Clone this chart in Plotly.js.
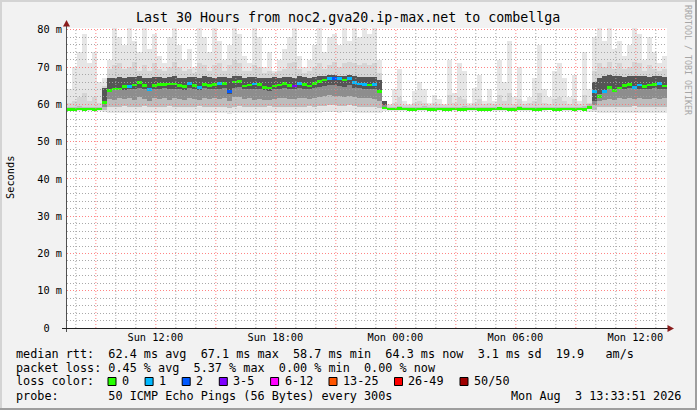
<!DOCTYPE html>
<html><head><meta charset="utf-8">
<script src="https://cdn.plot.ly/plotly-3.0.1.min.js"></script>
<style>
html,body{margin:0;padding:0;background:#f2f2f2;}
#chart{width:697px;height:410px;}
</style>
</head><body><div id="chart"></div>
<script>
// ---------- chart text ----------
const titleText = 'Last 30 Hours from noc2.gva20.ip-max.net to combellga';
const yAxisTitle = 'Seconds';
const creditText = 'RRDTOOL / TOBI OETIKER';
const statsMedian = 'median rtt:  62.4 ms avg  67.1 ms max  58.7 ms min  64.3 ms now  3.1 ms sd  19.9   am/s';
const statsLoss = 'packet loss: 0.45 % avg  5.37 % max  0.00 % min  0.00 % now';
const lossTitle = 'loss color:';
const probeText = 'probe:       50 ICMP Echo Pings (56 Bytes) every 300s';
const stampText = 'Mon Aug  3 13:33:51 2026';

// ---------- axes ----------
const rangeStart = '2026-08-02 07:35:00';
const rangeEnd = '2026-08-03 13:35:00';
const binStartUTC = Date.UTC(2026, 7, 2, 7, 35, 0);
const binMinutes = 15;
const yMax = 80.5;
const xTickVals = ['2026-08-02 12:00', '2026-08-02 18:00', '2026-08-03 00:00', '2026-08-03 06:00', '2026-08-03 12:00'];
const xTickText = ['Sun 12:00', 'Sun 18:00', 'Mon 00:00', 'Mon 06:00', 'Mon 12:00'];
const yTickVals = [0, 10, 20, 30, 40, 50, 60, 70, 80];
const yTickText = ['0\u00a0\u00a0', '10 m', '20 m', '30 m', '40 m', '50 m', '60 m', '70 m', '80 m'];

// ---------- loss legend ----------
const lossLabels = ['0', '1', '2', '3-5', '6-12', '13-25', '26-49', '50/50'];
const lossColors = ['#26ff00', '#00b8ff', '#0059ff', '#7e00ff', '#ff00ff', '#ff5500', '#ff0000', '#a00000'];

// ---------- data (15-minute bins, values in ms) ----------
const median = [
58.7,58.7,58.8,58.7,58.8,58.7,58.8,60.5,63.8,64.1,
64.1,64.8,64.8,65.2,65.9,65.0,64.0,65.0,65.4,65.4,
65.5,65.5,65.0,64.8,65.6,65.0,64.6,65.4,65.0,65.3,
65.6,65.6,63.4,66.0,66.2,64.9,65.2,65.5,65.4,64.5,
64.4,64.9,65.2,65.6,65.0,64.9,65.6,65.3,64.9,65.6,
66.2,66.5,67.0,67.0,67.0,66.5,67.0,65.8,65.5,65.4,
65.2,65.3,63.5,59.0,58.8,58.8,58.9,58.8,58.7,58.7,
58.8,58.8,58.7,58.7,58.8,58.7,58.7,58.8,58.7,58.7,
58.8,58.8,58.7,58.7,58.7,58.8,58.9,58.8,58.7,58.7,
58.9,58.8,58.8,58.7,58.7,58.8,58.8,58.7,58.7,58.8,
58.8,58.7,58.8,58.7,59.2,63.5,62.2,63.4,64.5,63.8,
64.4,65.0,65.4,64.6,65.2,64.8,65.2,65.3,65.6,64.9];

const lossIdx = [
0,0,0,0,0,0,0,0,0,0,
0,0,1,0,0,0,1,0,0,0,
0,0,0,0,1,0,1,0,0,0,
1,0,2,0,0,0,0,1,0,0,
0,0,0,0,0,3,1,0,0,0,
0,0,1,2,1,0,1,1,1,1,
0,1,0,0,0,0,0,0,0,0,
0,0,0,0,0,0,0,0,0,0,
0,0,0,0,0,0,0,0,0,0,
0,0,0,0,0,0,0,0,0,0,
0,0,0,0,0,1,0,1,0,0,
0,0,0,1,1,0,0,0,1,0];

const smokeMax = [
64,70,74,79,71,74,66,67,72,80.5,
78,76,80.5,77,74,80.5,75,79,73,71,
78,80.5,76,72,75,70,80.5,78,74,80.5,
77,72,76,80.5,79,73,71,80.5,78,70,
74,69,72,75,78,80.5,73,70,72,76,
80.5,74,78,79,76,80.5,77,80.5,78,80.5,
79,80.5,72,60.5,60,64,69.5,61,60,63.5,
66,64,60.5,62.5,61.5,60,72,63,71,69,
60.5,64.5,68,61,64,61,72,66,77,62,
70,61,62,67,76,64,62,69,71,67,
62,68,61,74,64,78,80.5,77,80.5,75,
77,73,76,80.5,79,72,78,74,71,73];

const hazeTop = [
60.5,61,62,63,61,62,60.5,65,69.5,70.5,
71,69.5,70,71.5,69,70.5,69,71,69.5,69,
70,71.5,70,69,69.5,68.5,71,70.5,69,70.5,
71,69,70.5,72,71,69,69,70.5,70,68.5,
69,68.5,69,69.5,71,71.5,69.5,68.5,69,70,
71,69.5,70.5,71.5,70,71,71.5,71,70.5,71,
70.5,71,68.5,60,59.8,60.5,62,59.8,59.8,60.5,
61,60.5,59.8,60.5,60,59.8,62.5,60.5,62,61.5,
59.8,60.5,61.5,60,60.5,60,62.5,61,63,60,
61.5,60,60.5,61,63,60.5,60,61.5,62,61,
60,61.5,60,62.5,60.5,69,71,70,71.5,69.5,
71,69.5,70,71.5,71,69,70.5,69.5,69,69.5];

const smokeMin = [
58.3,58.2,58.3,58.2,58.3,58.3,58.2,58.0,57.8,57.7,
57.6,57.8,57.7,57.7,57.6,57.8,57.7,57.6,57.7,57.8,
57.7,57.6,57.7,57.8,57.7,57.7,57.6,57.8,57.7,57.6,
57.7,57.8,57.5,57.7,57.8,57.7,57.6,57.7,57.8,57.7,
57.7,57.6,57.8,57.7,57.7,57.6,57.8,57.7,57.7,57.8,
57.7,57.9,58.0,57.9,57.8,57.9,58.0,57.8,57.7,57.8,
57.7,57.6,57.8,58.2,58.3,58.3,58.2,58.3,58.3,58.4,
58.3,58.2,58.3,58.3,58.3,58.2,58.3,58.3,58.4,58.3,
58.3,58.2,58.3,58.3,58.3,58.3,58.2,58.3,58.3,58.4,
58.3,58.3,58.2,58.3,58.3,58.3,58.4,58.3,58.3,58.2,
58.3,58.3,58.3,58.2,58.0,57.9,57.8,57.7,57.8,57.7,
57.6,57.8,57.7,57.8,57.7,57.6,57.8,57.7,57.8,57.7];

const bodyHi = [
59.4,59.3,59.5,59.3,59.4,59.3,59.4,64.5,67.0,67.2,
67.3,67.2,67.4,67.3,67.5,67.2,67.0,67.3,67.4,67.2,
67.3,67.5,67.2,67.1,67.4,67.3,67.2,67.5,67.3,67.2,
67.4,67.3,67.0,67.6,67.5,67.2,67.3,67.4,67.2,67.1,
67.0,67.3,67.2,67.4,67.3,67.2,67.5,67.3,67.2,67.4,
67.6,67.7,67.8,67.8,67.7,67.6,67.8,67.5,67.4,67.3,
67.3,67.4,66.5,61.0,59.4,59.3,59.5,59.3,59.3,59.4,
59.3,59.5,59.3,59.3,59.3,59.3,59.4,59.3,59.3,59.5,
59.3,59.3,59.4,59.3,59.3,59.3,59.4,59.3,59.3,59.3,
59.5,59.3,59.3,59.4,59.3,59.3,59.3,59.4,59.3,59.3,
59.3,59.4,59.3,59.5,60.0,66.0,67.0,67.6,67.8,67.5,
67.6,67.4,67.5,67.6,67.7,67.5,67.4,67.6,67.5,67.4];

const bodyLo = [
58.8,58.8,58.9,58.8,58.8,58.9,58.8,58.6,59.4,59.2,
59.3,59.5,59.2,59.4,59.3,59.6,59.2,59.3,59.4,59.2,
59.5,59.3,59.2,59.4,59.3,59.2,59.5,59.3,59.4,59.2,
59.3,59.3,59.0,59.4,59.5,59.2,59.3,59.4,59.2,59.3,
59.5,59.3,59.2,59.4,59.3,59.2,59.4,59.3,59.5,59.4,
59.6,59.7,59.8,59.8,59.7,59.6,59.8,59.5,59.4,59.3,
59.4,59.3,59.0,58.8,58.9,58.9,59.0,58.9,58.9,58.9,
59.0,58.9,58.9,58.9,58.9,59.0,58.9,58.9,58.9,58.9,
59.0,58.9,58.9,58.9,58.9,58.9,58.9,59.0,58.9,58.9,
58.9,58.9,58.9,59.0,58.9,58.9,58.9,58.9,59.0,58.9,
58.9,58.9,58.9,58.9,58.8,58.6,59.3,59.2,59.4,59.3,
59.2,59.4,59.3,59.5,59.4,59.3,59.2,59.4,59.3,59.4];

const coreLo = [
null,null,null,null,null,null,null,59.2,61.5,61.2,
61.8,61.4,61.6,61.3,62.0,61.5,61.0,61.7,61.4,61.8,
61.3,61.6,61.5,61.2,61.7,61.4,61.3,61.8,61.5,61.6,
61.4,61.7,60.8,61.9,62.0,61.5,61.6,61.3,61.4,61.2,
61.1,61.5,61.6,61.8,61.4,61.5,61.7,61.6,61.5,61.7,
62.0,62.2,62.4,62.3,62.2,62.0,62.3,61.9,61.8,61.7,
61.6,61.5,61.0,59.4,null,null,null,null,null,null,
null,null,null,null,null,null,null,null,null,null,
null,null,null,null,null,null,null,null,null,null,
null,null,null,null,null,null,null,null,null,null,
null,null,null,null,null,59.8,60.8,61.2,61.5,61.3,
61.6,61.4,61.7,61.5,61.6,61.4,61.5,61.7,61.5,61.6];

const darkLo = [
null,null,null,null,null,null,null,60.0,64.0,63.8,
64.2,63.9,64.1,64.0,64.4,64.0,63.5,64.2,64.1,64.3,
64.0,64.2,64.1,63.8,64.3,64.0,63.9,64.3,64.0,64.2,
64.1,64.3,62.8,64.5,64.6,64.0,64.2,64.1,64.0,63.8,
63.7,64.1,64.2,64.4,64.0,64.1,64.3,64.2,64.1,64.3,
64.8,65.0,65.2,65.1,65.0,64.8,65.1,64.5,64.3,64.2,
64.1,64.0,63.0,59.8,null,null,null,null,null,null,
null,null,null,null,null,null,null,null,null,null,
null,null,null,null,null,null,null,null,null,null,
null,null,null,null,null,null,null,null,null,null,
null,null,null,null,null,60.8,62.8,63.4,64.0,63.8,
64.1,64.0,64.3,64.1,64.2,64.0,64.1,64.3,64.2,64.1];

// ---------- helpers ----------
const W = 697, H = 410, ML = 67, MR = 30, MT = 28, MB = 82;
const PW = W - ML - MR, PH = H - MT - MB;
const X = px => (px - ML) / PW;
const Y = py => (MT + PH - py) / PH;
const binMs = binMinutes * 60000;
const fmt = ms => new Date(ms).toISOString().slice(0, 19).replace('T', ' ');
const binX = median.map((_, i) => fmt(binStartUTC + (i + 0.5) * binMs));
const nb = s => s.replace(/ /g, '\u00a0');
const MONO = 'DejaVu Sans Mono';

function layer(lo, hi, color) {
  const xs = [], base = [], h = [];
  for (let i = 0; i < binX.length; i++) {
    if (lo[i] == null || hi[i] == null) continue;
    const d = hi[i] - lo[i];
    if (d <= 0) continue;
    xs.push(binX[i]); base.push(lo[i]); h.push(d);
  }
  return {type: 'bar', x: xs, y: h, base: base, width: binMs,
          marker: {color: color, line: {width: 0}}, hoverinfo: 'skip', showlegend: false};
}

const traces = [
  layer(smokeMin, smokeMax, '#e6e6e6'),
  layer(bodyHi, hazeTop, '#d5d5d5'),
  layer(bodyLo, bodyHi, '#bdbdbd'),
  layer(coreLo, bodyHi, '#8d8d8d'),
  layer(darkLo, bodyHi, '#555555'),
  {type: 'bar', x: binX, y: median.map(() => 0.7), base: median.map(v => v - 0.35), width: binMs,
   marker: {color: lossIdx.map(k => lossColors[k]), line: {width: 0}}, hoverinfo: 'skip', showlegend: false}
];

// ---------- grid, axes, frame ----------
const shapes = [];
const gridMinor = 'rgba(160,160,160,0.9)', gridMajor = 'rgba(255,110,110,0.85)';
const halfPxMs = 0.5 * (30 * 3600000) / PW;
for (let t = Date.UTC(2026, 7, 2, 8, 0, 0); t <= Date.UTC(2026, 7, 3, 13, 0, 0); t += 3600000) {
  const hr = new Date(t).getUTCHours();
  shapes.push({type: 'line', xref: 'x', yref: 'paper', x0: fmt(t + halfPxMs), x1: fmt(t + halfPxMs), y0: 0, y1: 1, layer: 'above',
               line: {color: hr % 3 === 0 ? gridMajor : gridMinor, width: 1, dash: '1px,2px'}});
}
// horizontal grid, every 2 ms; each drawn as a row of dots (path segments)
for (let v = 2; v <= 80; v += 2) {
  const py = Math.floor(MT + PH - v * PH / yMax);
  let d = '';
  for (let px = ML; px < ML + PW; px += 3) d += `M${X(px)},${Y(py)} L${X(px + 1)},${Y(py)} L${X(px + 1)},${Y(py + 1)} L${X(px)},${Y(py + 1)} Z `;
  shapes.push({type: 'path', xref: 'paper', yref: 'paper', path: d, layer: 'above',
               fillcolor: v % 10 === 0 ? gridMajor : gridMinor, line: {width: 0}});
}
// axis lines
shapes.push({type: 'line', xref: 'paper', yref: 'paper', x0: X(66.5), x1: X(66.5), y0: Y(332), y1: Y(25), layer: 'above', line: {color: '#505050', width: 1}});
shapes.push({type: 'line', xref: 'paper', yref: 'paper', x0: X(62), x1: X(668), y0: Y(328.5), y1: Y(328.5), layer: 'above', line: {color: '#202020', width: 1}});
// arrows
const tri = (a, b, c) => `M${X(a[0])},${Y(a[1])} L${X(b[0])},${Y(b[1])} L${X(c[0])},${Y(c[1])} Z`;
shapes.push({type: 'path', xref: 'paper', yref: 'paper', path: tri([66.5, 20], [63, 26.5], [70, 26.5]), fillcolor: '#8a1c1c', line: {width: 0}, layer: 'above'});
shapes.push({type: 'path', xref: 'paper', yref: 'paper', path: tri([674, 328.5], [667.5, 325], [667.5, 332]), fillcolor: '#8a1c1c', line: {width: 0}, layer: 'above'});
// frame
shapes.push({type: 'line', xref: 'paper', yref: 'paper', x0: X(0), x1: X(697), y0: Y(1), y1: Y(1), line: {color: '#d4d4d4', width: 2}});
shapes.push({type: 'line', xref: 'paper', yref: 'paper', x0: X(1), x1: X(1), y0: Y(0), y1: Y(410), line: {color: '#d4d4d4', width: 2}});
shapes.push({type: 'line', xref: 'paper', yref: 'paper', x0: X(0), x1: X(697), y0: Y(409), y1: Y(409), line: {color: '#9e9e9e', width: 2}});
shapes.push({type: 'line', xref: 'paper', yref: 'paper', x0: X(696), x1: X(696), y0: Y(0), y1: Y(410), line: {color: '#9e9e9e', width: 2}});

// ---------- annotations ----------
const ann = [];
const txt = (text, px, py, size, opts) => Object.assign({
  text: nb(text), xref: 'paper', yref: 'paper', x: X(px), y: Y(py), xanchor: 'left', yanchor: 'middle',
  showarrow: false, borderpad: 0, font: {family: MONO, size: size, color: '#000'}}, opts || {});
ann.push(txt(titleText, 348, 18, 13.3, {xanchor: 'center'}));
ann.push(txt(yAxisTitle, 10, 178, 10.3, {xanchor: 'center', textangle: -90}));
ann.push(txt(creditText, 688, 60, 8.3, {xanchor: 'center', textangle: 90, font: {family: MONO, size: 8.3, color: '#a6a6a6'}}));
ann.push(txt(statsMedian, 15, 353.5, 11.8));
ann.push(txt(statsLoss, 15, 367.5, 11.8));
ann.push(txt(lossTitle, 15, 381.5, 11.8));
ann.push(txt(probeText, 15, 396, 11.8));
ann.push(txt(stampText, 682, 396, 11.8, {xanchor: 'right'}));
let sx = 108;
lossLabels.forEach((lab, k) => {
  shapes.push({type: 'rect', xref: 'paper', yref: 'paper', x0: X(sx), x1: X(sx + 8), y0: Y(385.5), y1: Y(377.5),
               fillcolor: lossColors[k], line: {color: '#000', width: 1}});
  ann.push(txt(lab, sx + 13, 381.5, 11.8));
  sx += 13 + 7.1 * lab.length + 17;
});

const layout = {
  width: W, height: H, margin: {l: ML, r: MR, t: MT, b: MB, pad: 0},
  paper_bgcolor: '#f2f2f2', plot_bgcolor: '#ffffff',
  barmode: 'overlay', bargap: 0, showlegend: false,
  xaxis: {type: 'date', range: [rangeStart, rangeEnd], tickmode: 'array', tickvals: xTickVals, ticktext: xTickText,
          showgrid: false, zeroline: false, showline: false, ticks: '', ticklabelstandoff: 2,
          tickfont: {family: MONO, size: 10.3, color: '#000'}, fixedrange: true},
  yaxis: {range: [0, yMax], tickmode: 'array', tickvals: yTickVals, ticktext: yTickText,
          showgrid: false, zeroline: false, showline: false, ticks: '', ticklabelstandoff: 4,
          tickfont: {family: MONO, size: 10.3, color: '#000'}, fixedrange: true},
  shapes: shapes, annotations: ann
};

Plotly.newPlot('chart', traces, layout, {staticPlot: true, displayModeBar: false});
</script>
</body></html>
